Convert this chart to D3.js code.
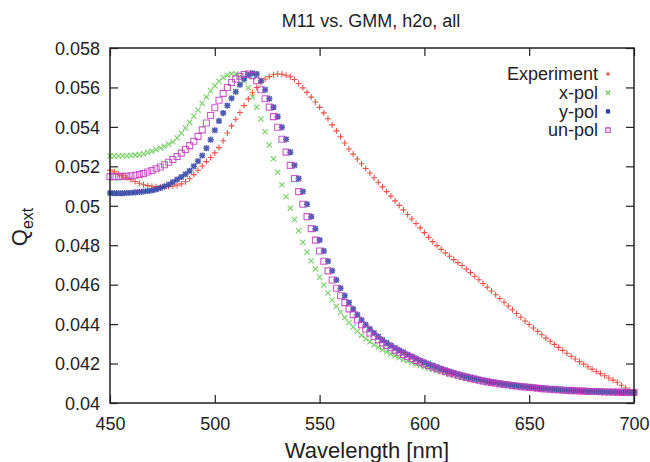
<!DOCTYPE html>
<html><head><meta charset="utf-8">
<script src="https://cdn.jsdelivr.net/npm/d3@7/dist/d3.min.js"></script>
<style>
html,body{margin:0;padding:0;background:#fff;}
text{font-family:"Liberation Sans",Arial,Helvetica,sans-serif;fill:#222;}
</style></head>
<body><svg id="chart" width="650" height="462"></svg>
<script>
// ---- data ----
const title = "M11 vs. GMM, h2o, all";
const xLabel = "Wavelength [nm]";
const wavelengths = d3.range(450, 701, 2); // sampling grid, nm
const xTicks = [450, 500, 550, 600, 650, 700];
const yTicks = [0.04, 0.042, 0.044, 0.046, 0.048, 0.05, 0.052, 0.054, 0.056, 0.058];
const yTickLabels = ["0.04","0.042","0.044","0.046","0.048","0.05","0.052","0.054","0.056","0.058"];
const seriesNames = ["Experiment", "x-pol", "y-pol", "un-pol"];

const experiment = [
0.05181,0.05172,0.05162,0.05152,0.05142,0.05132,0.05123,0.05114,0.05107,0.05102,
0.05099,0.05097,0.05096,0.05097,0.05098,0.05100,0.05104,0.05111,0.05122,0.05137,
0.05158,0.05180,0.05202,0.05224,0.05245,0.05268,0.05295,0.05330,0.05369,0.05405,
0.05439,0.05473,0.05508,0.05542,0.05573,0.05600,0.05625,0.05643,0.05655,0.05664,
0.05668,0.05667,0.05662,0.05654,0.05640,0.05620,0.05598,0.05575,0.05551,0.05526,
0.05499,0.05471,0.05441,0.05410,0.05380,0.05350,0.05318,0.05288,0.05262,0.05237,
0.05213,0.05189,0.05166,0.05142,0.05119,0.05096,0.05072,0.05049,0.05025,0.05002,
0.04979,0.04956,0.04933,0.04910,0.04888,0.04864,0.04840,0.04818,0.04798,0.04779,
0.04761,0.04744,0.04727,0.04712,0.04697,0.04679,0.04661,0.04643,0.04625,0.04606,
0.04587,0.04568,0.04549,0.04530,0.04511,0.04492,0.04473,0.04454,0.04435,0.04416,
0.04398,0.04380,0.04363,0.04346,0.04329,0.04313,0.04297,0.04282,0.04267,0.04252,
0.04237,0.04223,0.04210,0.04197,0.04184,0.04172,0.04160,0.04149,0.04138,0.04127,
0.04116,0.04105,0.04090,0.04076,0.04065,0.04057];

const xPol = [
0.05252,0.05252,0.05252,0.05253,0.05254,0.05255,0.05257,0.05260,0.05264,0.05270,
0.05277,0.05285,0.05293,0.05302,0.05312,0.05324,0.05344,0.05368,0.05394,0.05423,
0.05454,0.05486,0.05519,0.05552,0.05583,0.05609,0.05631,0.05650,0.05662,0.05668,
0.05668,0.05656,0.05632,0.05598,0.05553,0.05500,0.05440,0.05376,0.05308,0.05238,
0.05170,0.05106,0.05046,0.04988,0.04930,0.04873,0.04815,0.04764,0.04721,0.04679,
0.04638,0.04598,0.04558,0.04522,0.04490,0.04460,0.04433,0.04408,0.04385,0.04364,
0.04344,0.04326,0.04310,0.04295,0.04282,0.04270,0.04259,0.04249,0.04239,0.04230,
0.04221,0.04213,0.04205,0.04197,0.04190,0.04183,0.04176,0.04170,0.04164,0.04158,
0.04152,0.04146,0.04141,0.04136,0.04131,0.04126,0.04122,0.04118,0.04114,0.04110,
0.04106,0.04103,0.04100,0.04097,0.04094,0.04091,0.04088,0.04086,0.04083,0.04081,
0.04079,0.04077,0.04075,0.04073,0.04071,0.04070,0.04068,0.04067,0.04065,0.04064,
0.04063,0.04062,0.04061,0.04060,0.04059,0.04058,0.04058,0.04057,0.04056,0.04056,
0.04055,0.04055,0.04054,0.04054,0.04053,0.04053];

const yPol = [
0.05065,0.05064,0.05064,0.05064,0.05065,0.05066,0.05068,0.05070,0.05072,0.05075,
0.05078,0.05083,0.05090,0.05098,0.05108,0.05120,0.05133,0.05146,0.05160,0.05177,
0.05200,0.05226,0.05255,0.05292,0.05335,0.05383,0.05430,0.05470,0.05508,0.05545,
0.05578,0.05614,0.05644,0.05664,0.05672,0.05668,0.05634,0.05588,0.05543,0.05500,
0.05452,0.05398,0.05337,0.05272,0.05205,0.05138,0.05072,0.05008,0.04945,0.04884,
0.04826,0.04771,0.04719,0.04670,0.04624,0.04582,0.04544,0.04509,0.04477,0.04448,
0.04421,0.04397,0.04375,0.04355,0.04337,0.04320,0.04305,0.04292,0.04280,0.04268,
0.04257,0.04246,0.04236,0.04226,0.04216,0.04207,0.04198,0.04190,0.04182,0.04174,
0.04167,0.04160,0.04153,0.04147,0.04141,0.04135,0.04130,0.04125,0.04120,0.04115,
0.04111,0.04107,0.04104,0.04100,0.04097,0.04094,0.04091,0.04088,0.04086,0.04083,
0.04081,0.04079,0.04077,0.04075,0.04073,0.04071,0.04070,0.04068,0.04067,0.04065,
0.04064,0.04063,0.04062,0.04061,0.04060,0.04059,0.04058,0.04058,0.04057,0.04056,
0.04056,0.04055,0.04055,0.04054,0.04054,0.04053];

const unPol = [
0.05148,0.05148,0.05148,0.05149,0.05150,0.05152,0.05155,0.05159,0.05164,0.05171,
0.05179,0.05188,0.05197,0.05208,0.05221,0.05235,0.05250,0.05267,0.05285,0.05305,
0.05327,0.05352,0.05385,0.05420,0.05458,0.05497,0.05535,0.05570,0.05600,0.05625,
0.05643,0.05657,0.05666,0.05668,0.05660,0.05634,0.05588,0.05543,0.05500,0.05452,
0.05398,0.05337,0.05272,0.05205,0.05138,0.05072,0.05008,0.04945,0.04884,0.04826,
0.04771,0.04719,0.04670,0.04624,0.04582,0.04544,0.04509,0.04477,0.04448,0.04421,
0.04397,0.04375,0.04355,0.04337,0.04320,0.04305,0.04292,0.04280,0.04268,0.04257,
0.04246,0.04236,0.04226,0.04216,0.04207,0.04198,0.04190,0.04182,0.04174,0.04167,
0.04160,0.04153,0.04147,0.04141,0.04135,0.04130,0.04125,0.04120,0.04115,0.04111,
0.04107,0.04104,0.04100,0.04097,0.04094,0.04091,0.04088,0.04086,0.04083,0.04081,
0.04079,0.04077,0.04075,0.04073,0.04071,0.04070,0.04068,0.04067,0.04065,0.04064,
0.04063,0.04062,0.04061,0.04060,0.04059,0.04058,0.04058,0.04057,0.04056,0.04056,
0.04055,0.04055,0.04054,0.04054,0.04053,0.04053];

// ---- layout / style ----
const L = 110, R = 634, T = 48, B = 403;
const colors = ["#e8352a", "#5ec94a", "#2f3fa3", "#c040c0"];
const svg = d3.select("#chart");
svg.append("rect").attr("width",650).attr("height",462).attr("fill","#fff");

const x = d3.scaleLinear().domain([450, 700]).range([L, R]);
const y = d3.scaleLinear().domain([0.04, 0.058]).range([B, T]);

// marker shapes
function markerPath(kind, s) {
  if (kind === "plus") return `M${-s},0H${s}M0,${-s}V${s}`;
  if (kind === "cross") return `M${-s},${-s}L${s},${s}M${-s},${s}L${s},${-s}`;
  if (kind === "star") return `M${-s},0H${s}M0,${-s}V${s}M${-s*0.8},${-s*0.8}L${s*0.8},${s*0.8}M${-s*0.8},${s*0.8}L${s*0.8},${-s*0.8}`;
  if (kind === "square") return `M${-s},${-s}H${s}V${s}H${-s}Z`;
}
const series = [
  {name: seriesNames[0], values: experiment, kind: "plus", size: 3.0, width: 1.1},
  {name: seriesNames[1], values: xPol, kind: "cross", size: 2.6, width: 1.1},
  {name: seriesNames[2], values: yPol, kind: "star", size: 3.1, width: 1.5},
  {name: seriesNames[3], values: unPol, kind: "square", size: 3.0, width: 1.1},
];

const plot = svg.append("g");
series.forEach((s, i) => {
  const g = plot.append("g");
  g.selectAll("path").data(wavelengths.map((w, k) => [w, s.values[k]]))
    .join("path")
    .attr("transform", d => `translate(${x(d[0])},${y(d[1])})`)
    .attr("d", markerPath(s.kind, s.size))
    .attr("fill", "none")
    .attr("stroke", colors[i])
    .attr("stroke-width", s.width)
    .attr("stroke-opacity", 0.85);
});

// ---- axes & frame ----
const axisColor = "#222";
const axBottom = svg.append("g").attr("transform", `translate(0,${B})`)
  .call(d3.axisBottom(x).tickValues(xTicks).tickSize(-8).tickPadding(14).tickFormat(d3.format("d")));
const axTop = svg.append("g").attr("transform", `translate(0,${T})`)
  .call(d3.axisTop(x).tickValues(xTicks).tickSize(-8).tickFormat(""));
const axLeft = svg.append("g").attr("transform", `translate(${L},0)`)
  .call(d3.axisLeft(y).tickValues(yTicks).tickSize(-8).tickPadding(10).tickFormat((d, i) => yTickLabels[i]));
const axRight = svg.append("g").attr("transform", `translate(${R},0)`)
  .call(d3.axisRight(y).tickValues(yTicks).tickSize(-8).tickFormat(""));
[axBottom, axTop, axLeft, axRight].forEach(a => {
  a.select(".domain").remove();
  a.selectAll(".tick line").attr("stroke", axisColor).attr("stroke-width", 1.2);
  a.selectAll(".tick text").attr("font-size", 18).attr("fill", axisColor)
    .attr("font-family", '"Liberation Sans",Arial,Helvetica,sans-serif');
});
axLeft.selectAll(".tick text").attr("dy", "0.35em");
svg.append("rect").attr("x", L).attr("y", T).attr("width", R - L).attr("height", B - T)
  .attr("fill", "none").attr("stroke", axisColor).attr("stroke-width", 1.5);

// ---- titles ----
svg.append("text").attr("x", 371).attr("y", 27).attr("text-anchor", "middle")
  .attr("font-size", 18).text(title);
svg.append("text").attr("x", 367).attr("y", 458).attr("text-anchor", "middle")
  .attr("font-size", 22).text(xLabel);
const yl = svg.append("text").attr("transform", "translate(27,227) rotate(-90)")
  .attr("text-anchor", "middle").attr("font-size", 22);
yl.append("tspan").text("Q");
yl.append("tspan").attr("font-size", 16).attr("dy", 6).text("ext");

// ---- legend ----
const legend = svg.append("g");
series.forEach((s, i) => {
  const ly = 74 + i * 18.7;
  legend.append("text").attr("x", 598).attr("y", ly).attr("dy", "0.35em")
    .attr("text-anchor", "end").attr("font-size", 18).text(s.name);
  legend.append("path").attr("transform", `translate(608,${ly})`)
    .attr("d", markerPath(s.kind, 2.2)).attr("fill", "none")
    .attr("stroke", colors[i]).attr("stroke-width", s.width);
});
</script></body></html>
